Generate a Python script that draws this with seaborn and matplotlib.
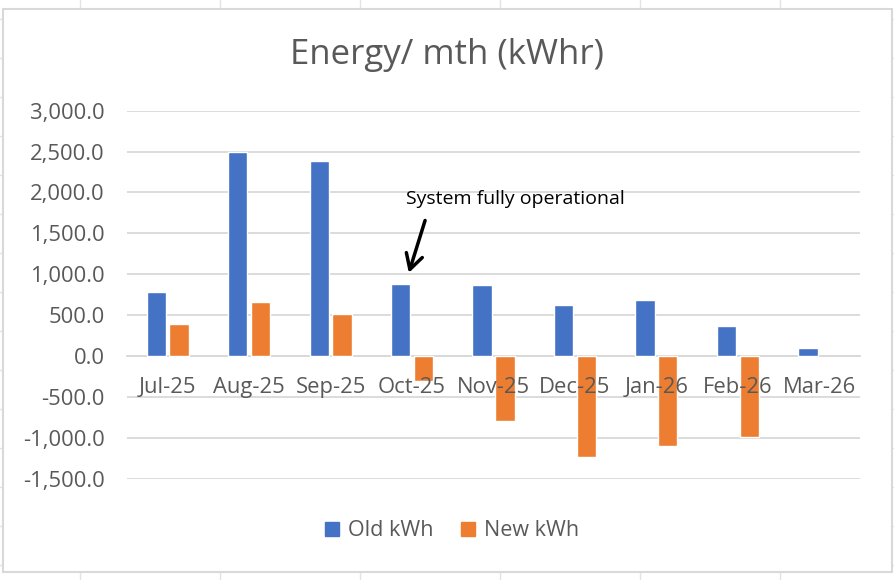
import numpy as np
import pandas as pd
import matplotlib
matplotlib.use("Agg")
import matplotlib.pyplot as plt
import seaborn as sns
from matplotlib.ticker import FuncFormatter, FixedLocator
from matplotlib.patches import Rectangle
from matplotlib.lines import Line2D

months = ["Jul-25", "Aug-25", "Sep-25", "Oct-25", "Nov-25",
          "Dec-25", "Jan-26", "Feb-26", "Mar-26"]
old_kwh = [780, 2495, 2385, 885, 865, 620, 690, 370, 100]
new_kwh = [395, 655, 520, -300, -795, -1230, -1105, -985, np.nan]
series_names = ["Old kWh", "New kWh"]

BLUE = "#4472C4"
ORANGE = "#ED7D31"
GRID = "#D9D9D9"
TXT = "#595959"

df = pd.DataFrame({
    "month": months * 2,
    "series": [series_names[0]] * len(months) + [series_names[1]] * len(months),
    "kWh": old_kwh + new_kwh,
})

sns.set_theme(style="white")
plt.rcParams["font.family"] = ["Open Sans", "DejaVu Sans"]

fig = plt.figure(figsize=(8.95, 5.8), dpi=100)

# excel sheet gridlines behind the chart
for x in range(80, 895, 140):
    fig.add_artist(Line2D([x / 895, x / 895], [0, 1], color="#E3E3E3", lw=1, zorder=-3))
for y in range(19, 580, 39):
    fig.add_artist(Line2D([0, 1], [1 - y / 580, 1 - y / 580], color="#E3E3E3", lw=1, zorder=-3))
fig.add_artist(Rectangle((3 / 895, 1 - 572 / 580), 889 / 895, 563 / 580,
                         transform=fig.transFigure, facecolor="white",
                         edgecolor=GRID, lw=1.5, zorder=-2))

ax = fig.add_axes([127 / 895, 1 - 478.7 / 580, 733 / 895, 368 / 580])
ax.set_facecolor("none")
ax.set_zorder(1)

sns.barplot(data=df, x="month", y="kWh", hue="series", hue_order=series_names,
            order=months, palette=[BLUE, ORANGE], saturation=1,
            width=0.56, gap=0.15, errorbar=None, ax=ax, legend=False, zorder=3)

ax.set_ylim(-1500, 3000)
ax.set_xlim(-0.5, len(months) - 0.5)
ax.set_yticks(np.arange(-1500, 3001, 500))
ax.yaxis.set_major_formatter(FuncFormatter(lambda v, p: f"{v:,.1f}"))
ax.grid(axis="y", color=GRID, lw=1.3, zorder=0)
ax.set_axisbelow(True)

for s in ["top", "right", "left"]:
    ax.spines[s].set_visible(False)
ax.spines["bottom"].set_position(("data", 0))
ax.spines["bottom"].set_color(GRID)
ax.spines["bottom"].set_linewidth(1.3)

ax.tick_params(axis="y", length=0, pad=16, labelsize=15.8, labelcolor=TXT)
ax.tick_params(axis="x", which="major", length=0, pad=15, labelsize=15.8, labelcolor=TXT)
ax.xaxis.set_minor_locator(FixedLocator(np.arange(-0.5, len(months), 1)))
ax.tick_params(axis="x", which="minor", length=5, width=1.3, color="#CFCFCF", direction="out")
ax.xaxis.set_zorder(5)  # month labels sit on top of the negative bars
ax.set_xlabel("")
ax.set_ylabel("")

fig.text(447 / 895, 1 - 55 / 580, "Energy/ mth (kWhr)", ha="center", va="center",
         fontsize=25, color=TXT)

# annotation
ax.text(2.93, 1925, "System fully operational", ha="left", va="center",
        fontsize=14, color="black", zorder=6)
ax.annotate("", xy=(2.95, 985), xytext=(3.17, 1690),
            arrowprops=dict(arrowstyle="->,head_length=0.9,head_width=0.5",
                            color="black", lw=2.5), zorder=6)

handles = [Rectangle((0, 0), 1, 1, color=BLUE), Rectangle((0, 0), 1, 1, color=ORANGE)]
fig.legend(handles, series_names, loc="center", bbox_to_anchor=(452 / 895, 1 - 531 / 580),
           ncol=2, frameon=False, fontsize=15.5, labelcolor=TXT,
           handlelength=0.65, handleheight=0.65, handletextpad=0.4, columnspacing=1.3)

fig.savefig("out.png", dpi=100)
